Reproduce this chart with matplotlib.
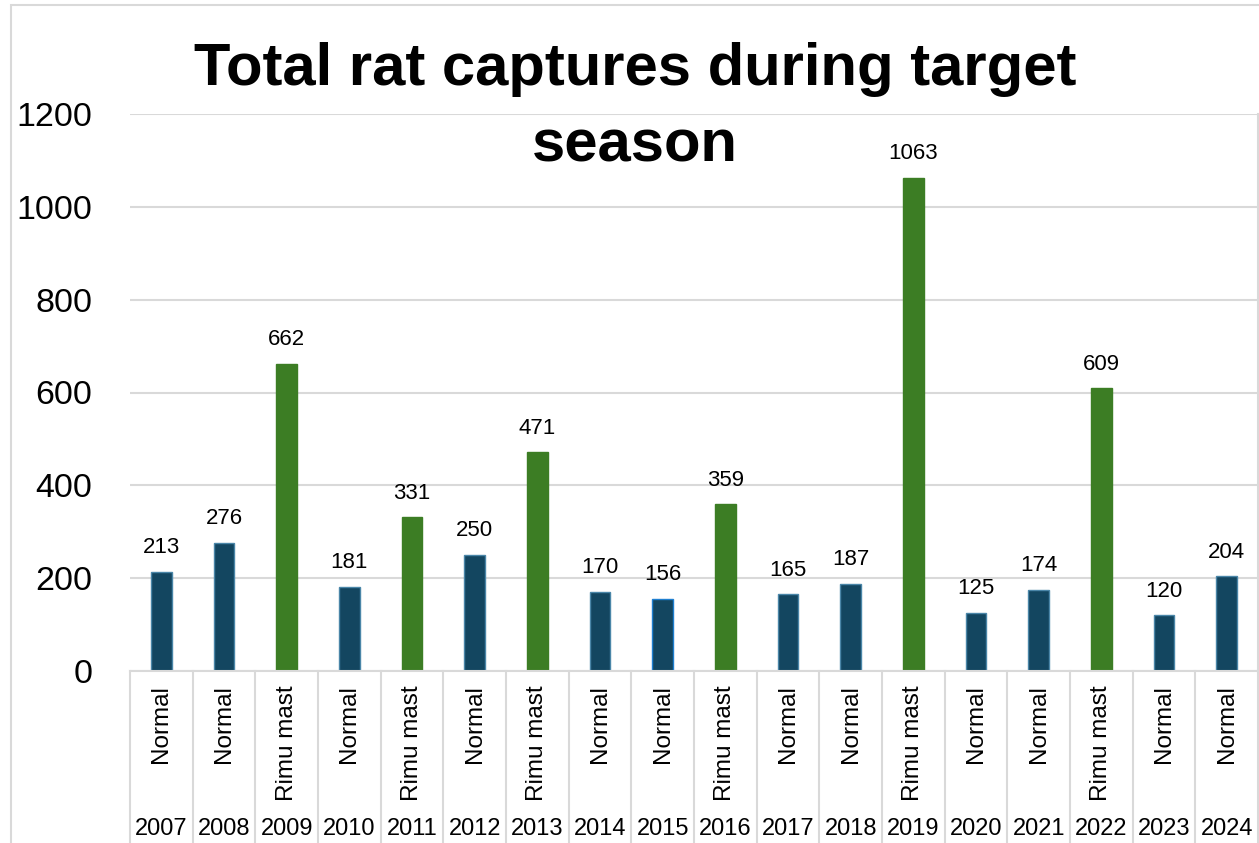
import matplotlib
matplotlib.use("Agg")
import matplotlib.pyplot as plt
from matplotlib.patches import Rectangle
from matplotlib.transforms import blended_transform_factory

years = ["2007", "2008", "2009", "2010", "2011", "2012", "2013", "2014", "2015",
         "2016", "2017", "2018", "2019", "2020", "2021", "2022", "2023", "2024"]
season_type = ["Normal", "Normal", "Rimu mast", "Normal", "Rimu mast", "Normal", "Rimu mast",
               "Normal", "Normal", "Rimu mast", "Normal", "Normal", "Rimu mast", "Normal",
               "Normal", "Rimu mast", "Normal", "Normal"]
captures = [213, 276, 662, 181, 331, 250, 471, 170, 156, 359, 165, 187, 1063, 125, 174, 609, 120, 204]
y_ticks = [0, 200, 400, 600, 800, 1000, 1200]

NAVY = "#134660"
NAVY_EDGE = "#4a86a8"
GREEN = "#3c7d24"
GRID = "#d9d9d9"

plt.rcParams["font.family"] = ["Liberation Sans", "DejaVu Sans"]

W, H = 1259, 843
fig = plt.figure(figsize=(W / 100, H / 100), dpi=100)

# figure border
fig.patches.append(Rectangle((11 / W, -0.1), 1.2, (H - 4.5) / H + 0.1, transform=fig.transFigure,
                             fill=False, edgecolor=GRID, linewidth=1.5))

left_px, right_px, top_px, bot_px = 130, 1258, 114, 671
ax = fig.add_axes([left_px / W, (H - bot_px) / H, (right_px - left_px) / W, (bot_px - top_px) / H])

n = len(captures)
xs = list(range(n))
colors = [GREEN if t == "Rimu mast" else NAVY for t in season_type]
edges = [GREEN if t == "Rimu mast" else NAVY_EDGE for t in season_type]
edges[years.index("2015")] = "#1f7fd0"
bars = ax.bar(xs, captures, width=0.335, color=colors, edgecolor=edges, linewidth=1.0, zorder=3)

for x, v in zip(xs, captures):
    ax.annotate(str(v), (x, v), xytext=(0, 13.5), textcoords="offset points",
                ha="center", va="baseline", fontsize=16, color="black", zorder=5)

ax.set_xlim(-0.5, n - 0.5)
ax.set_ylim(0, 1200)
ax.set_yticks(y_ticks)
ax.set_yticklabels([str(t) for t in y_ticks], fontsize=24.5)
ax.tick_params(axis="y", length=0, pad=27)
ax.set_xticks([])
ax.yaxis.grid(True, color=GRID, linewidth=1.5, zorder=0)
ax.set_axisbelow(True)
for s in ["top", "right", "left"]:
    ax.spines[s].set_visible(False)
ax.spines["bottom"].set_color(GRID)
ax.spines["bottom"].set_linewidth(1.5)
ax.spines["bottom"].set_zorder(4)

# right plot-area border
ax.plot([1, 1], [0, 1], transform=ax.transAxes, color=GRID, lw=1.5, clip_on=False)

# multi-level category axis
trans = blended_transform_factory(ax.transData, ax.transAxes)
px_per_axes = bot_px - top_px
y_bottom = -(H - bot_px + 5) / px_per_axes
for i in range(n + 1):
    ax.plot([i - 0.5, i - 0.5], [0, y_bottom], transform=trans, color=GRID, lw=1.5, clip_on=False)

y_type = -(685 - bot_px) / px_per_axes
y_year = -(829 - bot_px) / px_per_axes
for x, t, yr in zip(xs, season_type, years):
    ax.text(x, y_type, t, transform=trans, rotation=90, ha="center", va="top", fontsize=17.5)
    ax.text(x, y_year, yr, transform=trans, ha="center", va="center", fontsize=17)

fig.text(635 / W, 1 - 85 / H, "Total rat captures during target", ha="center", va="baseline",
         fontsize=43, fontweight="bold")
fig.text(635 / W, 1 - 162 / H, "season", ha="center", va="baseline",
         fontsize=43, fontweight="bold")

fig.savefig("out.png", dpi=100)
